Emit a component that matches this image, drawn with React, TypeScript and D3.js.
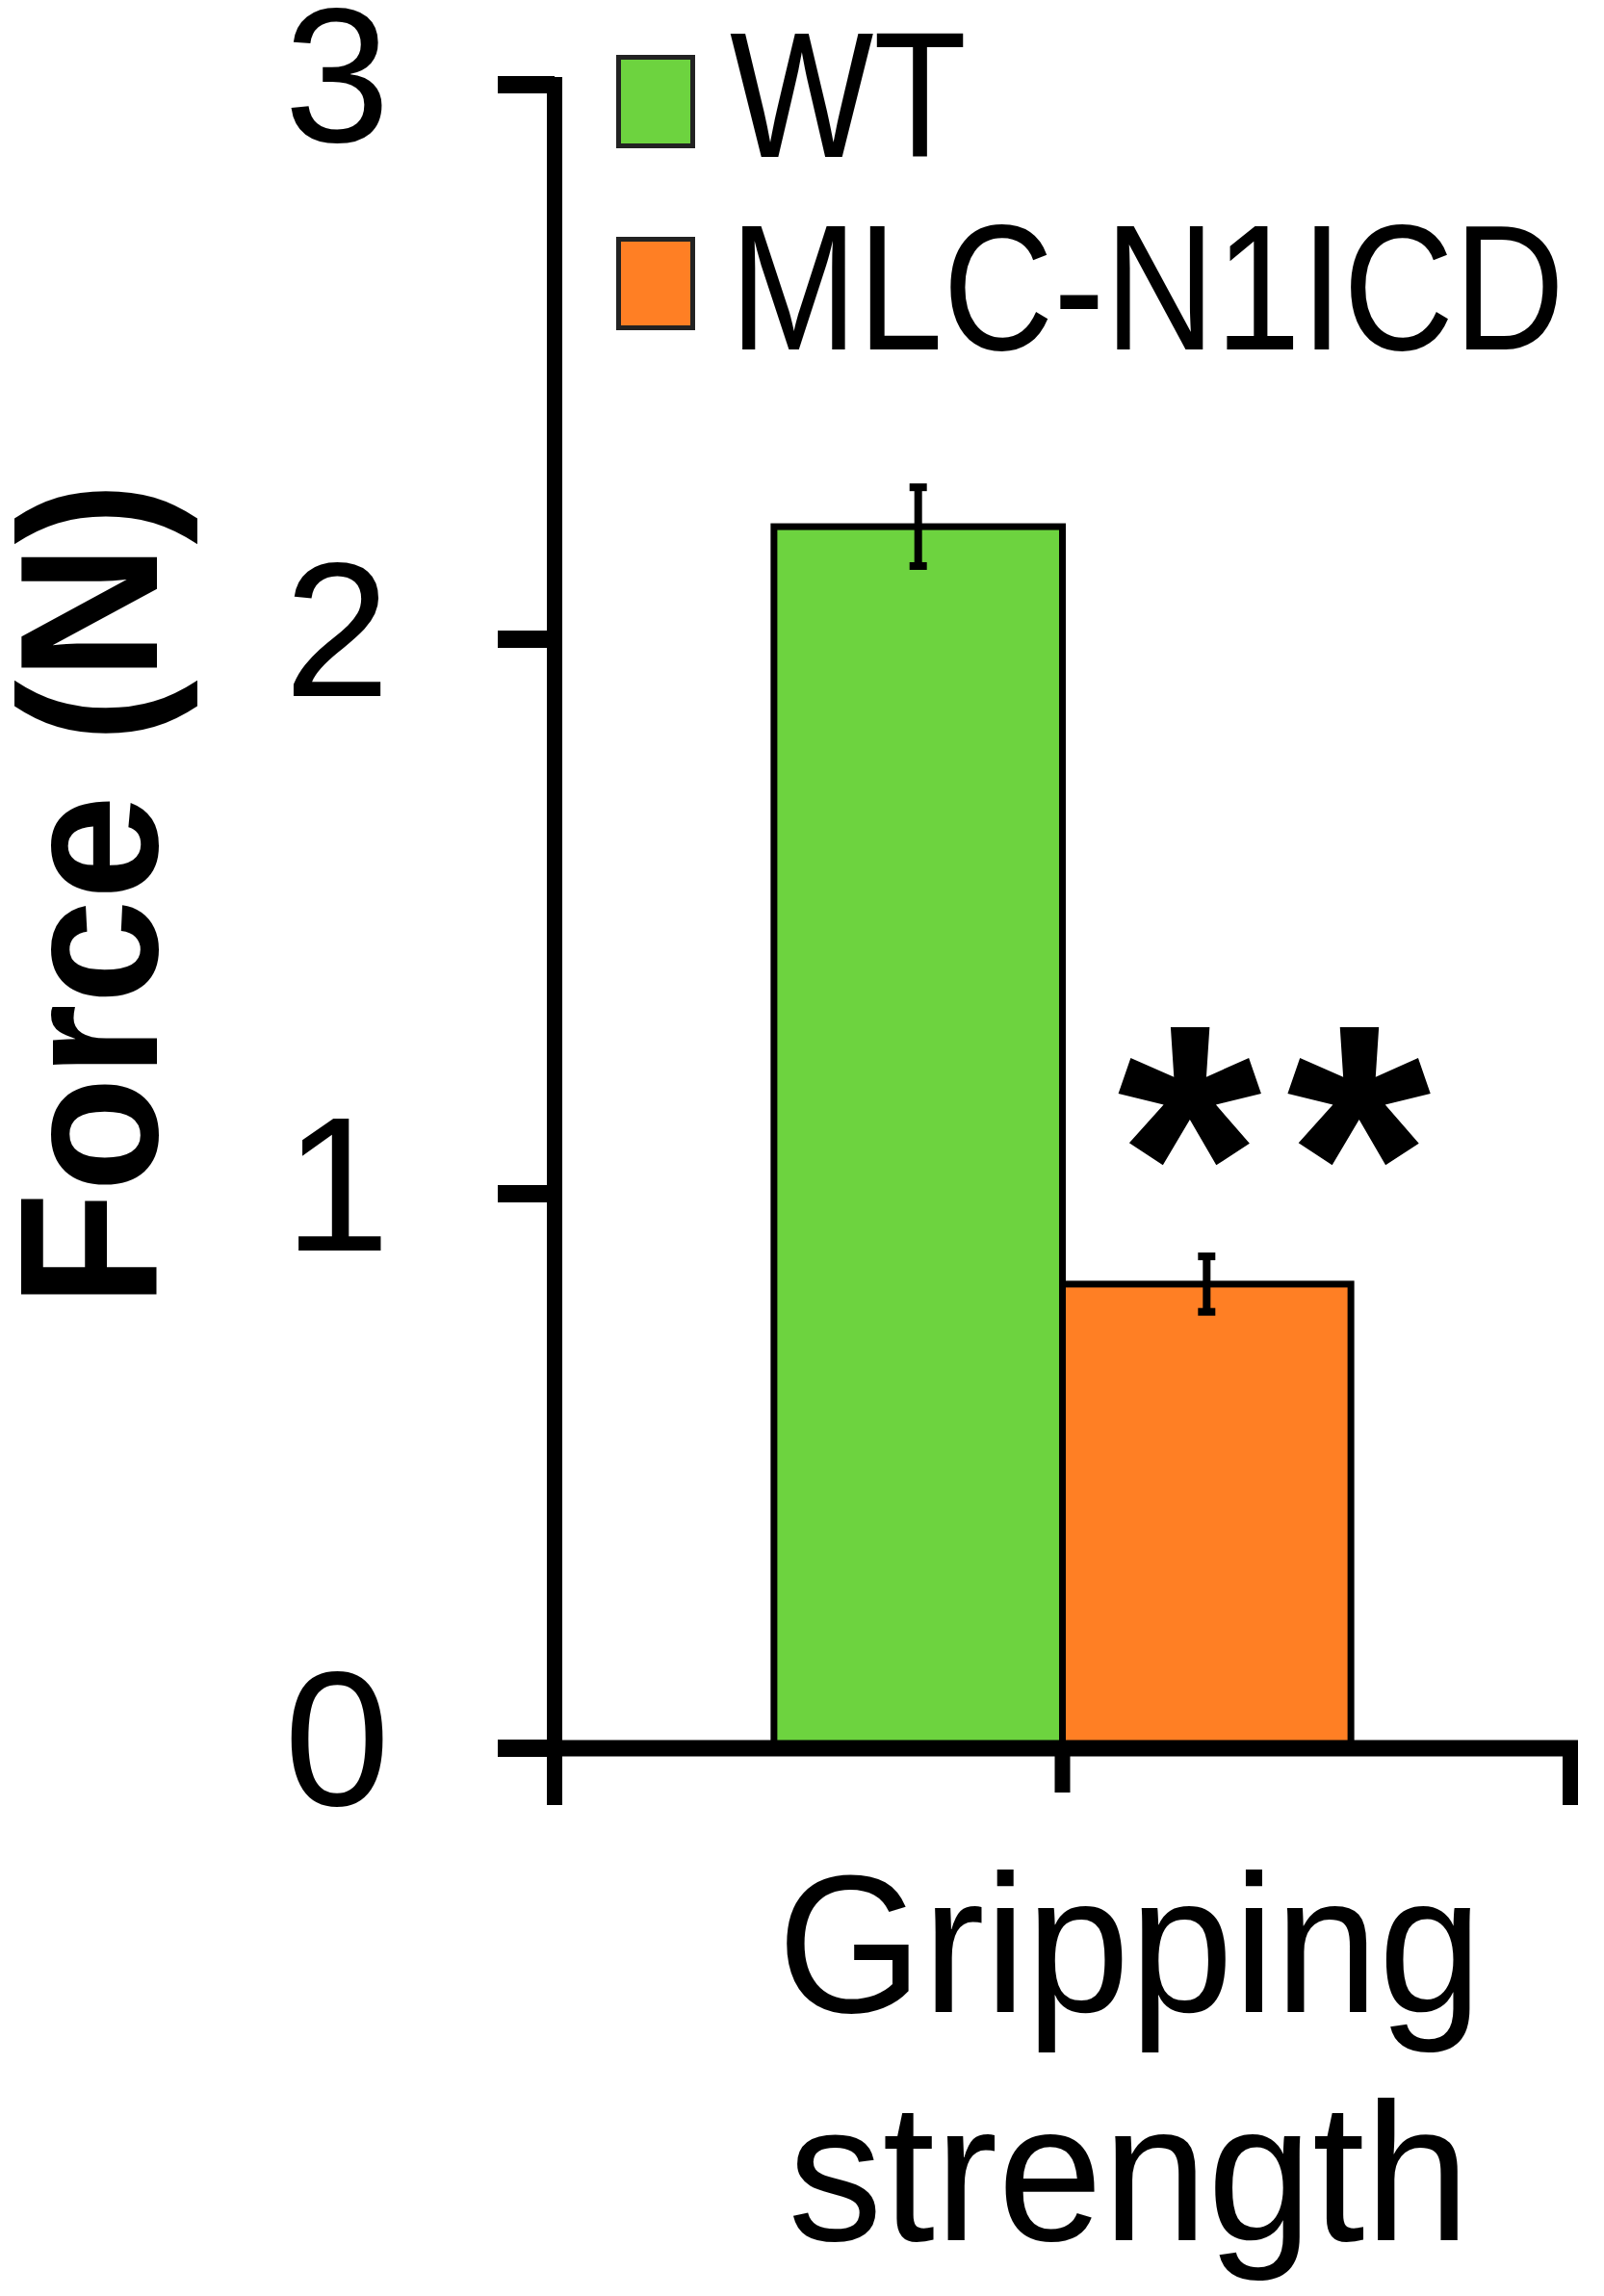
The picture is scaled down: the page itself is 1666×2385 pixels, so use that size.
import React from "react";
import * as d3 from "d3";

const categories = ["Gripping strength"];
const seriesNames = ["WT", "MLC-N1ICD"];
const seriesColors = ["#6DD33F", "#FF7F24"];
const means = [2.203, 0.837];
const errors = [0.071, 0.05];
const yTicks = [0, 1, 2, 3];
const significance = ["", "**"];

const W = 1666;
const H = 2385;

export default function App() {
  const y = d3.scaleLinear().domain([0, 3]).range([1816, 88]);
  const x = d3.scaleBand().domain(categories).range([576, 1631]).padding(0);
  const groupW = x.bandwidth() * 0.568;
  const cx = (x(categories[0]) as number) + x.bandwidth() / 2;
  const sub = d3
    .scaleBand()
    .domain(seriesNames)
    .range([cx - groupW / 2, cx + groupW / 2])
    .padding(0);

  const axisX = 576;
  const y0 = y(0);
  const font = "'Liberation Sans', Arial, sans-serif";
  const bandStart = x(categories[0]) as number;
  const bandEnd = bandStart + x.bandwidth();

  return (
    <svg
      width={W}
      height={H}
      style={{ position: "absolute", left: 0, top: 0, display: "block", background: "#fff" }}
      fontFamily={font}
    >
      <rect x={0} y={0} width={W} height={H} fill="#fff" />
      {/* bars */}
      {seriesNames.map((s, i) => (
        <rect
          key={s}
          x={sub(s)}
          y={y(means[i])}
          width={sub.bandwidth()}
          height={y0 - y(means[i])}
          fill={seriesColors[i]}
          stroke="#000"
          strokeWidth={7}
        />
      ))}
      {/* error bars */}
      {seriesNames.map((s, i) => {
        const bx = (sub(s) as number) + sub.bandwidth() / 2;
        const top = y(means[i] + errors[i]);
        const bot = y(means[i] - errors[i]);
        return (
          <g key={s + "e"} stroke="#000">
            <line x1={bx} x2={bx} y1={top} y2={bot} strokeWidth={8} />
            <line x1={bx - 9} x2={bx + 9} y1={top} y2={top} strokeWidth={8} />
            <line x1={bx - 9} x2={bx + 9} y1={bot} y2={bot} strokeWidth={8} />
          </g>
        );
      })}
      {/* significance */}
      {seriesNames.map((s, i) =>
        significance[i] ? (
          <text
            key={s + "sig"}
            x={(sub(s) as number) + sub.bandwidth() / 2 + 83}
            y={1332}
            fontSize={385}
            fontWeight="bold"
            textAnchor="middle"
            letterSpacing={26}
          >
            {significance[i]}
          </text>
        ) : null
      )}
      {/* y axis */}
      <line x1={axisX} x2={axisX} y1={y(3) - 8} y2={1875} stroke="#000" strokeWidth={16} />
      {yTicks.map((t) => (
        <g key={t}>
          <line x1={517} x2={axisX} y1={y(t)} y2={y(t)} stroke="#000" strokeWidth={18} />
          <text x={405} y={y(t) + 59} fontSize={198} textAnchor="end" fill="#000">
            {t}
          </text>
        </g>
      ))}
      {/* x axis */}
      <line x1={517} x2={bandEnd + 8} y1={y0} y2={y0} stroke="#000" strokeWidth={17} />
      {[bandStart, cx, bandEnd].map((t, i) => (
        <line key={i} x1={t} x2={t} y1={y0} y2={i === 1 ? 1862 : 1875} stroke="#000" strokeWidth={16} />
      ))}
      {/* x label */}
      <text x={cx + 70} y={2090} fontSize={205} textAnchor="middle" textLength={732} lengthAdjust="spacingAndGlyphs">
        Gripping
      </text>
      <text x={cx + 69} y={2327} fontSize={205} textAnchor="middle" textLength={708} lengthAdjust="spacingAndGlyphs">
        strength
      </text>
      {/* y title */}
      <text
        transform="translate(163,929) rotate(-90)"
        fontSize={204}
        fontWeight="bold"
        textAnchor="middle"
        textLength={857}
        lengthAdjust="spacingAndGlyphs"
      >
        Force (N)
      </text>
      {/* legend */}
      {seriesNames.map((s, i) => (
        <g key={s + "leg"}>
          <rect
            x={642.5}
            y={59.5 + i * 189}
            width={77}
            height={92}
            fill={seriesColors[i]}
            stroke="#222"
            strokeWidth={5}
          />
          <text
            x={758}
            y={163 + i * 200}
            fontSize={186}
            textLength={i === 0 ? 246 : 867}
            lengthAdjust="spacingAndGlyphs"
          >
            {s}
          </text>
        </g>
      ))}
    </svg>
  );
}
